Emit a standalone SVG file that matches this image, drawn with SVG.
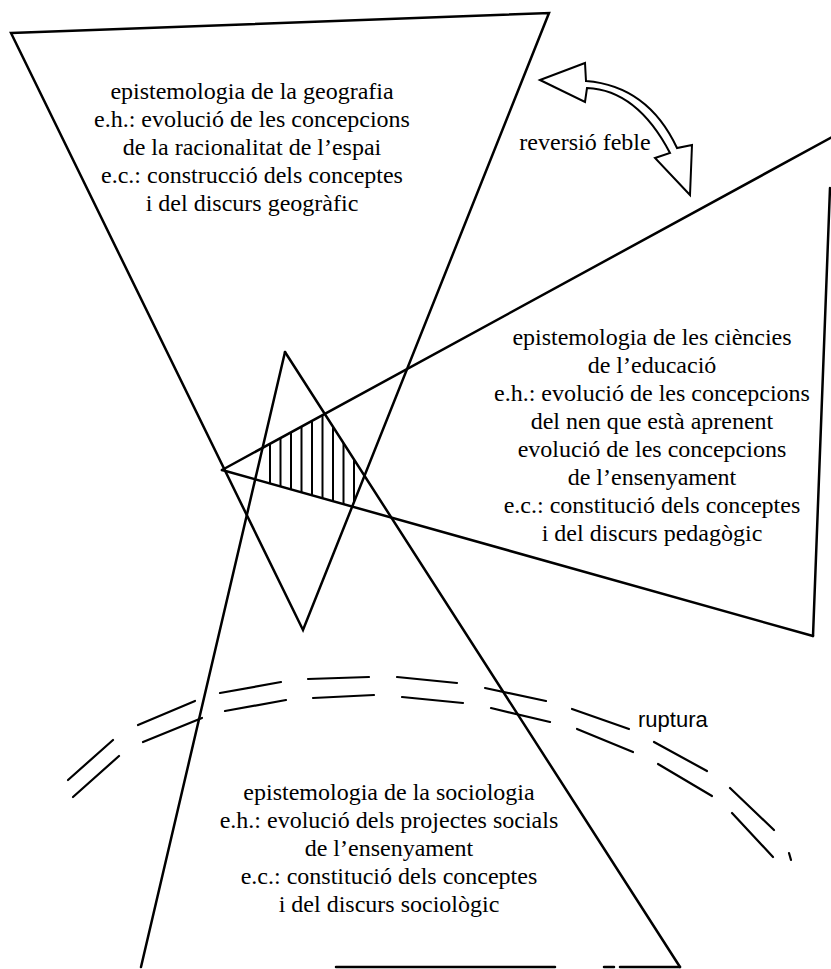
<svg xmlns="http://www.w3.org/2000/svg" width="831" height="969" viewBox="0 0 831 969">
<style>
.edge{fill:none;stroke:#000;stroke-width:2.5;stroke-linejoin:miter;stroke-linecap:round}
.hatch{stroke:#000;stroke-width:2}
.dash{stroke:#000;stroke-width:2.2;stroke-linecap:round;fill:none}
.arrow{fill:#fff;stroke:#000;stroke-width:2;stroke-linejoin:miter}
.t{font-family:"Liberation Serif","Times New Roman",serif;font-size:24px;fill:#000;text-anchor:middle}
.s{font-family:"Liberation Sans",Arial,sans-serif;font-size:22px;fill:#000}
</style>
<defs>
<clipPath id="hatchClip"><polygon points="262.6,447.8 324.9,413.8 364.5,475.3 352.1,506.5 255.2,479.3"/></clipPath>
</defs>
<rect width="831" height="969" fill="#fff"/>

<g id="geografia">
<polygon class="edge" points="11,33 549,13 303,630"/>
<text class="t" x="252" y="99">epistemologia de la geografia</text>
<text class="t" x="252" y="127">e.h.: evolució de les concepcions</text>
<text class="t" x="252" y="155">de la racionalitat de l’espai</text>
<text class="t" x="252" y="183">e.c.: construcció dels conceptes</text>
<text class="t" x="252" y="211">i del discurs geogràfic</text>
</g>

<g id="educacio">
<line class="edge" x1="222" y1="470" x2="834" y2="136"/>
<line class="edge" x1="830" y1="188" x2="813" y2="636"/>
<line class="edge" x1="813" y1="636" x2="222" y2="470"/>
<text class="t" x="652" y="345">epistemologia de les ciències</text>
<text class="t" x="652" y="373">de l’educació</text>
<text class="t" x="652" y="401">e.h.: evolució de les concepcions</text>
<text class="t" x="652" y="429">del nen que està aprenent</text>
<text class="t" x="652" y="457">evolució de les concepcions</text>
<text class="t" x="652" y="485">de l’ensenyament</text>
<text class="t" x="652" y="513">e.c.: constitució dels conceptes</text>
<text class="t" x="652" y="541">i del discurs pedagògic</text>
</g>

<g id="sociologia">
<line class="edge" x1="141" y1="967" x2="285" y2="352"/>
<line class="edge" x1="285" y1="352" x2="680" y2="967"/>
<line class="edge" x1="680" y1="967" x2="620" y2="967"/>
<line class="edge" x1="614" y1="967" x2="604" y2="967"/>
<line class="edge" x1="555" y1="967" x2="336" y2="967"/>
<text class="t" x="389" y="800">epistemologia de la sociologia</text>
<text class="t" x="389" y="828">e.h.: evolució dels projectes socials</text>
<text class="t" x="389" y="856">de l’ensenyament</text>
<text class="t" x="389" y="884">e.c.: constitució dels conceptes</text>
<text class="t" x="389" y="912">i del discurs sociològic</text>
</g>

<g id="interseccio" clip-path="url(#hatchClip)">
<line class="hatch" x1="270" y1="400" x2="270" y2="520"/>
<line class="hatch" x1="280.5" y1="400" x2="280.5" y2="520"/>
<line class="hatch" x1="291" y1="400" x2="291" y2="520"/>
<line class="hatch" x1="301.5" y1="400" x2="301.5" y2="520"/>
<line class="hatch" x1="312" y1="400" x2="312" y2="520"/>
<line class="hatch" x1="322.5" y1="400" x2="322.5" y2="520"/>
<line class="hatch" x1="333" y1="400" x2="333" y2="520"/>
<line class="hatch" x1="343.5" y1="400" x2="343.5" y2="520"/>
<line class="hatch" x1="354" y1="400" x2="354" y2="520"/>
</g>

<g id="connectors">
<g id="reversio">
<path class="arrow" d="M540,80 L585,63 L586,81 Q648,86 677,148 L692,145 L690,195 L655,158 L670,153 Q637,90 587,88 L585,102 Z"/>
<text class="t" x="585" y="150">reversió feble</text>
</g>
<g id="ruptura">
<line class="dash" x1="68" y1="780" x2="113" y2="740"/>
<line class="dash" x1="138" y1="725" x2="195" y2="701"/>
<line class="dash" x1="220" y1="693" x2="281" y2="682"/>
<line class="dash" x1="308" y1="679" x2="369" y2="677"/>
<line class="dash" x1="397" y1="677" x2="457" y2="683"/>
<line class="dash" x1="485" y1="688" x2="546" y2="701"/>
<line class="dash" x1="572" y1="709" x2="629" y2="729"/>
<line class="dash" x1="654" y1="742" x2="707" y2="771"/>
<line class="dash" x1="730" y1="788" x2="774" y2="830"/>
<line class="dash" x1="73" y1="797" x2="119" y2="756"/>
<line class="dash" x1="143" y1="742" x2="202" y2="718"/>
<line class="dash" x1="225" y1="711" x2="286" y2="700"/>
<line class="dash" x1="313" y1="698" x2="374" y2="695"/>
<line class="dash" x1="402" y1="697" x2="463" y2="703"/>
<line class="dash" x1="491" y1="708" x2="550" y2="722"/>
<line class="dash" x1="577" y1="729" x2="633" y2="752"/>
<line class="dash" x1="658" y1="764" x2="712" y2="796"/>
<line class="dash" x1="732" y1="813" x2="773" y2="857"/>
<line class="dash" x1="789" y1="853" x2="791" y2="860"/>
<text class="s" x="638" y="727">ruptura</text>
</g>
</g>
</svg>
